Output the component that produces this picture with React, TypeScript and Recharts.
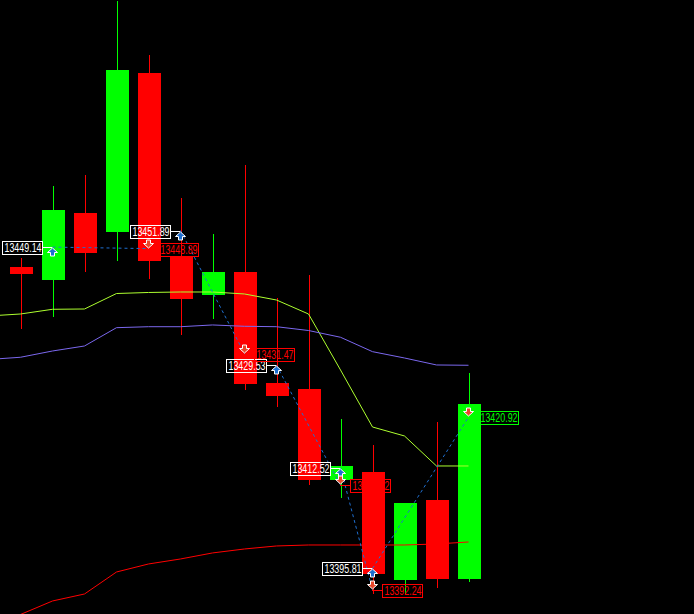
import React from 'react';
import { ComposedChart, Bar, Line, XAxis, YAxis, ReferenceDot } from 'recharts';

// bar slots: one slot before the first visible candle, 15 candles, then empty future slots
const categories = [
  'b-1', 'b0', 'b1', 'b2', 'b3', 'b4', 'b5', 'b6', 'b7', 'b8', 'b9', 'b10',
  'b11', 'b12', 'b13', 'b14', 'b15', 'b16', 'b17', 'b18', 'b19', 'b20',
];

const candleOpen = [13445.84, 13443.68, 13454.8, 13451.65, 13478.03, 13447.5, 13441.19, 13445.01, 13426.59, 13425.6, 13410.5, 13411.83, 13393.91, 13407.18, 13394.07];
const candleHigh = [13447.33, 13459.28, 13461.1, 13489.97, 13481.01, 13457.29, 13451.31, 13462.76, 13440.7, 13444.51, 13420.62, 13416.31, 13406.68, 13420.12, 13428.25];
const candleLow = [13435.55, 13437.54, 13445.01, 13446.83, 13443.85, 13434.56, 13437.21, 13425.43, 13422.61, 13409.67, 13407.51, 13391.58, 13391.58, 13392.58, 13393.57];
const candleClose = [13444.68, 13455.3, 13448.16, 13478.53, 13446.83, 13440.53, 13445.01, 13426.43, 13424.44, 13410.5, 13412.82, 13394.9, 13406.68, 13394.07, 13423.11];

// indicator lines, from slot b-1 to b14
const maFast = [13437.71, 13438.04, 13438.82, 13438.87, 13441.44, 13441.61, 13441.69, 13441.69, 13441.36, 13440.36, 13438.04, 13428.75, 13419.29, 13417.8, 13412.82, 13412.82];
const maSlow = [13430.49, 13430.86, 13431.9, 13432.73, 13435.77, 13435.93, 13435.93, 13436.22, 13436.0, 13435.93, 13435.3, 13434.18, 13431.79, 13430.74, 13429.58, 13429.53];
const lowerBand = [13386.11, 13388.18, 13390.42, 13391.58, 13395.23, 13396.56, 13397.39, 13398.39, 13399.05, 13399.55, 13399.71, 13399.71, 13399.71, 13399.71, 13399.88, 13400.21];

// trades (bar index of the candle)
const tradeOpenBar = [1, 5, 8, 10, 11];
const tradeOpenPrice = [13449.14, 13451.89, 13429.53, 13412.52, 13395.81];
const tradeCloseBar = [4, 7, 10, 11, 14];
const tradeClosePrice = [13448.89, 13431.47, 13409.62, 13392.24, 13420.92];
const tradeOpenText = ['13449.14', '13451.89', '13429.53', '13412.52', '13395.81'];
const tradeCloseText = ['13448.89', '13431.47', '13409.62', '13392.24', '13420.92'];
const tradeProfit = [false, false, false, false, true];

const Y_DOMAIN = [13388.26, 13490.14];

const data = categories.map((c, k) => {
  const i = k - 1;
  const row: any = { c };
  if (i >= 0 && i < candleOpen.length) {
    row.range = [candleLow[i], candleHigh[i]];
    row.open = candleOpen[i];
    row.close = candleClose[i];
    row.high = candleHigh[i];
    row.low = candleLow[i];
  }
  if (k < maFast.length) {
    row.fast = maFast[k];
    row.slow = maSlow[k];
    row.lower = lowerBand[k];
  }
  tradeOpenBar.forEach((b, n) => {
    if (i === b) row['t' + n] = tradeOpenPrice[n];
    if (i === tradeCloseBar[n]) row['t' + n] = tradeClosePrice[n];
  });
  return row;
});

const BULL = '#00FF00';
const BEAR = '#FF0000';
const FONT = '"Liberation Sans", Arial, sans-serif';

const Candle = (props: any) => {
  const { x, y, width, height, payload } = props;
  if (!payload || payload.open == null) return null;
  const { open, close, high, low } = payload;
  const ppu = height / (high - low);
  const yOf = (v: number) => y + (high - v) * ppu;
  const color = close >= open ? BULL : BEAR;
  const top = Math.round(yOf(Math.max(open, close)));
  const bot = Math.round(yOf(Math.min(open, close)));
  const left = Math.round(x);
  const w = Math.round(width);
  const wx = left + Math.floor(w / 2);
  const wy1 = Math.round(y);
  const wy2 = Math.round(y + height);
  return (
    <g>
      <rect x={wx} y={wy1} width={1} height={Math.max(1, wy2 - wy1)} fill={color} />
      <rect x={left} y={top} width={w} height={Math.max(1, bot - top)} fill={color} />
    </g>
  );
};

const OpenMark = ({ cx, cy, text }: any) => {
  if (cx == null || cy == null) return null;
  const px = Math.floor(cx);
  const py = Math.round(cy);
  const rx = px - 49.5;
  const t = py + 1;
  const a = px + 0.5;
  const pts = [
    [a, t], [a + 5, t + 4.5], [a + 2, t + 4.5], [a + 2, t + 8], [a - 2, t + 8], [a - 2, t + 4.5], [a - 5, t + 4.5],
  ].map((p) => p.join(',')).join(' ');
  return (
    <g>
      <line x1={rx + 40} x2={px} y1={py + 0.5} y2={py + 0.5} stroke="#FFFFFF" strokeWidth={1} />
      <rect x={rx} y={py - 5.5} width={40} height={13} fill="none" stroke="#FFFFFF" strokeWidth={1} />
      <text x={rx + 2} y={py + 5} fill="#FFFFFF" fontSize={12} fontFamily={FONT} textLength={37} lengthAdjust="spacingAndGlyphs">{text}</text>
      <polygon points={pts} fill="#1E6FD0" stroke="#FFFFFF" strokeWidth={1} />
    </g>
  );
};

const CloseMark = ({ cx, cy, text, color }: any) => {
  if (cx == null || cy == null) return null;
  const px = Math.floor(cx);
  const py = Math.round(cy);
  const rx = px + 10.5;
  const b = py - 1;
  const a = px + 0.5;
  const pts = [
    [a - 2, b - 8], [a + 2, b - 8], [a + 2, b - 4.5], [a + 5, b - 4.5], [a, b], [a - 5, b - 4.5], [a - 2, b - 4.5],
  ].map((p) => p.join(',')).join(' ');
  return (
    <g>
      <line x1={px} x2={rx} y1={py + 0.5} y2={py + 0.5} stroke={color} strokeWidth={1} />
      <rect x={rx} y={py - 5.5} width={40} height={13} fill="none" stroke={color} strokeWidth={1} />
      <text x={rx + 2} y={py + 5} fill={color} fontSize={12} fontFamily={FONT} textLength={37} lengthAdjust="spacingAndGlyphs">{text}</text>
      <polygon points={pts} fill="#E8462A" stroke="#FFFFFF" strokeWidth={1} />
    </g>
  );
};

export default function App() {
  return (
    <div style={{ position: 'fixed', left: 0, top: 0, width: 694, height: 614, background: '#000000', overflow: 'hidden' }}>
      <ComposedChart
        width={694}
        height={614}
        data={data}
        margin={{ top: 0, right: 17.5, bottom: 0, left: -27.5 }}
        style={{ background: '#000000' }}
      >
        <XAxis dataKey="c" type="category" hide />
        <YAxis type="number" domain={Y_DOMAIN} allowDataOverflow hide />
        <Bar dataKey="range" barSize={23} shape={<Candle />} isAnimationActive={false} />
        <Line type="linear" dataKey="fast" stroke="#ADFF2F" strokeWidth={1} dot={false} isAnimationActive={false} />
        <Line type="linear" dataKey="slow" stroke="#7B68EE" strokeWidth={1} dot={false} isAnimationActive={false} />
        <Line type="linear" dataKey="lower" stroke="#FF0000" strokeWidth={1} dot={false} isAnimationActive={false} />
        {tradeOpenBar.map((b, n) => (
          <Line
            key={'t' + n}
            type="linear"
            dataKey={'t' + n}
            stroke="#1F6FD0"
            strokeWidth={1}
            strokeDasharray="3 3"
            dot={false}
            connectNulls
            isAnimationActive={false}
          />
        ))}
        {tradeOpenBar.map((b, n) => (
          <ReferenceDot
            key={'o' + n}
            x={categories[b + 1]}
            y={tradeOpenPrice[n]}
            r={0}
            ifOverflow="visible"
            shape={(p: any) => <OpenMark cx={p.cx} cy={p.cy} text={tradeOpenText[n]} />}
          />
        ))}
        {tradeCloseBar.map((b, n) => (
          <ReferenceDot
            key={'c' + n}
            x={categories[b + 1]}
            y={tradeClosePrice[n]}
            r={0}
            ifOverflow="visible"
            shape={(p: any) => (
              <CloseMark cx={p.cx} cy={p.cy} text={tradeCloseText[n]} color={tradeProfit[n] ? BULL : BEAR} />
            )}
          />
        ))}
      </ComposedChart>
    </div>
  );
}
